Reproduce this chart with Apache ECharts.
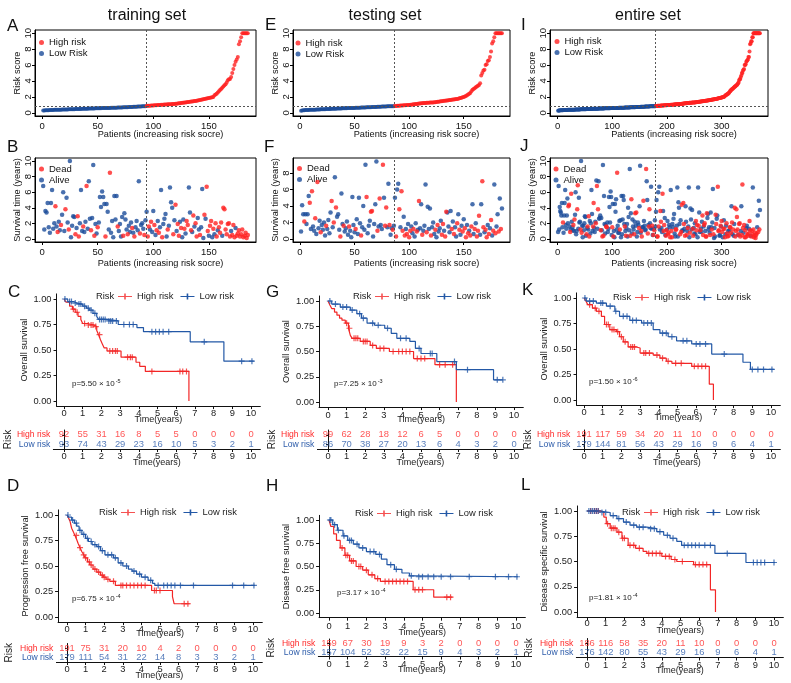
<!DOCTYPE html>
<html><head><meta charset="utf-8">
<script src="https://cdn.jsdelivr.net/npm/echarts@6/dist/echarts.min.js"></script>
<style>html,body{margin:0;padding:0;background:#fff}#c{width:791px;height:683px}</style>
</head><body><div id="c"></div>
<script>
// ---------------- DATA ----------------
const trainRisk = [0.28,0.30,0.31,0.32,0.33,0.33,0.34,0.35,0.35,0.36,
0.37,0.37,0.38,0.38,0.39,0.40,0.40,0.41,0.41,0.42,
0.42,0.43,0.43,0.44,0.44,0.45,0.45,0.46,0.46,0.47,
0.47,0.48,0.48,0.49,0.49,0.50,0.50,0.51,0.51,0.52,
0.52,0.53,0.53,0.54,0.54,0.55,0.55,0.56,0.56,0.57,
0.57,0.58,0.58,0.59,0.59,0.60,0.60,0.61,0.61,0.62,
0.62,0.63,0.63,0.64,0.64,0.65,0.65,0.66,0.66,0.67,
0.67,0.68,0.69,0.69,0.70,0.71,0.71,0.72,0.73,0.73,
0.74,0.75,0.76,0.76,0.77,0.78,0.79,0.80,0.80,0.81,
0.82,0.83,0.84,
0.86,0.88,0.89,0.90,0.91,0.92,0.93,
0.94,0.95,0.96,0.97,0.98,0.99,1.00,1.01,1.02,1.03,
1.04,1.05,1.06,1.07,1.08,1.09,1.10,1.11,1.12,1.13,
1.15,1.17,1.19,1.21,1.23,1.25,1.27,1.29,1.31,1.33,
1.35,1.37,1.39,1.41,1.43,1.45,1.47,1.49,1.52,1.55,
1.58,1.61,1.64,1.67,1.70,1.73,1.76,1.79,1.82,1.85,
1.88,1.92,1.96,2.00,2.20,2.30,2.40,2.55,2.70,2.85,
3.00,3.15,3.30,3.45,3.60,3.80,4.10,4.20,4.25,4.50,
5.00,5.50,6.00,6.40,6.70,7.00,8.60,9.00,9.50,10,
10,10,10,10,10];
const trainTime = [6.8,1.2,3.6,3.4,4.6,1.5,0.8,4.6,6.3,1.3,
2.0,4.2,1.6,0.9,2.2,1.1,1.8,3.1,6.0,1.0,
3.8,5.3,2.1,1.2,10.0,0.2,1.7,2.9,2.8,0.6,
1.4,2.9,0.3,2.0,6.3,1.0,1.6,0.9,2.2,6.8,
1.3,7.4,2.6,1.1,2.7,9.5,0.4,1.9,0.7,1.5,
2.1,5.4,4.1,6.1,5.4,4.5,0.3,4.5,3.5,1.2,
8.5,0.8,2.3,0.2,5.5,2.5,5.5,1.6,1.0,1.9,
0.3,2.8,0.4,3.3,2.5,1.2,0.6,1.7,0.9,2.1,
1.4,0.8,0.3,1.5,2.3,1.1,7.4,0.7,1.8,2.0,
1.3,0.5,2.4,3.5,0.3,1.6,1.2,2.2,0.9,3.6,
1.8,0.5,1.1,2.3,0.8,1.5,6.3,0.2,1.9,2.6,
3.2,0.3,1.2,1.7,6.6,4.7,4.0,0.6,2.4,4.4,
1.0,1.9,0.4,2.2,1.4,0.2,2.5,1.3,0.7,2.3,
1.8,6.6,3.4,1.1,0.9,3.0,1.6,2.0,0.3,2.7,
1.2,0.5,1.5,6.4,0.1,3.1,2.6,6.7,1.0,0.4,
1.7,2.3,0.2,1.3,0.6,2.0,0.3,1.1,1.5,0.8,
2.1,0.4,4.0,3.8,1.2,0.6,1.9,2.0,0.3,1.0,
0.5,1.8,0.2,1.4,0.4,0.7,1.1,0.3,0.6,1.2,
0.2,0.4,0.8,0.1,0.5];
const trainDead = [0,0,0,0,0,0,0,0,0,0, 0,1,0,1,0,0,1,0,0,0, 1,0,0,1,0,0,0,0,0,1,
0,1,1,0,0,0,1,0,0,1, 0,0,0,1,0,0,1,0,0,1, 0,0,0,0,0,0,1,0,0,0,
1,0,0,0,0,0,0,1,0,0, 0,0,1,0,0,0,1,0,0,0, 1,0,1,0,0,0,0,1,0,0,
0,1,0,0,1,1,0,1,0,0, 1,0,1,0,1,0,0,1,0,0, 0,0,1,0,0,0,0,1,0,1,
0,1,1,0,1,0,0,1,0,1, 1,0,0,1,0,1,0,1,1,0, 0,1,0,0,0,1,0,1,1,0,
1,1,0,1,0,1,1,0,1,1, 1,0,1,1,1,1,1,1,1,0, 1,1,1,0,1,1,1,1,1,1, 1,1,1,1,1];
const trainLowCount = 93;

const testRisk = [0.27,0.30,0.32,0.33,0.34,0.35,0.36,0.36,0.37,0.38,
0.38,0.39,0.40,0.40,0.41,0.42,0.42,0.43,0.44,0.44,
0.45,0.45,0.46,0.47,0.47,0.48,0.48,0.49,0.50,0.50,
0.51,0.51,0.52,0.53,0.53,0.54,0.54,0.55,0.56,0.56,
0.57,0.57,0.58,0.59,0.59,0.60,0.60,0.61,0.62,0.62,
0.63,0.63,0.64,0.65,0.65,0.66,0.66,0.67,0.68,0.68,
0.69,0.69,0.70,0.71,0.71,0.72,0.72,0.73,0.74,0.74,
0.75,0.76,0.76,0.77,0.78,0.78,0.79,0.80,0.80,0.81,
0.81,0.82,0.82,0.83,0.83,0.84,
0.86,0.87,0.88,0.89,
0.90,0.91,0.92,0.93,0.94,0.95,0.96,0.97,0.98,0.99,
1.00,1.02,1.04,1.06,1.08,1.10,1.12,1.14,1.16,1.18,
1.20,1.21,1.22,1.23,1.24,1.25,1.26,1.27,1.28,1.29,
1.30,1.31,1.32,1.34,1.36,1.38,1.40,1.42,1.44,1.46,
1.48,1.50,1.52,1.54,1.56,1.58,1.60,1.62,1.64,1.66,
1.68,1.70,1.72,1.75,1.78,1.82,1.86,1.90,1.95,2.00,
2.05,2.10,2.20,2.30,2.40,2.50,2.70,2.90,3.00,3.10,
3.20,3.30,3.40,3.50,3.70,4.70,5.00,5.30,5.40,6.00,
6.10,6.50,6.60,7.00,7.70,8.70,9.00,9.50,10,10,
10,10,10,10,10];
const testTime = [0.9,4.1,3.0,2.1,3.0,1.8,3.0,5.2,4.4,1.2,
5.8,1.5,1.0,2.5,0.6,6.9,1.3,2.2,0.8,1.7,
1.1,2.0,0.4,1.6,1.2,2.3,0.7,3.2,4.6,1.4,
2.0,7.5,3.8,2.7,3.0,1.1,0.3,5.5,1.8,1.6,
0.9,1.3,2.1,0.5,1.5,1.0,0.2,5.1,1.7,0.8,
1.2,2.4,0.6,5.0,1.9,0.4,1.4,4.0,1.1,9.0,
5.1,0.7,1.6,2.2,3.3,3.4,0.3,1.8,4.2,9.4,
1.0,1.5,4.9,1.7,1.2,9.0,5.0,1.6,3.8,1.4,
6.7,1.7,0.5,1.3,1.1,1.6,5.0,0.3,6.0,6.7,
3.6,1.4,5.8,1.0,2.7,0.4,1.2,0.6,1.8,0.2,
1.0,1.5,0.7,1.2,0.3,1.9,0.9,1.1,4.6,1.3,
4.2,0.5,1.0,1.6,6.6,0.8,3.9,1.2,3.7,0.4,
1.4,2.0,0.6,1.1,0.2,1.7,0.9,1.3,2.2,0.5,
1.8,1.0,0.3,3.3,3.2,1.5,0.8,3.4,1.2,2.1,
0.6,1.4,0.3,1.9,3.0,1.1,0.5,1.6,0.9,2.4,
1.3,0.2,1.7,0.7,1.0,0.4,1.5,4.2,0.6,1.2,
1.9,0.3,1.0,2.8,0.5,4.2,7.0,1.4,0.8,1.1,
0.2,1.7,0.6,1.3,2.3,0.4,1.0,6.6,0.7,1.5,
3.0,0.9,4.9,1.2,3.7];
const testDead = [0,0,0,1,0,0,0,0,1,0, 1,0,0,1,0,1,0,0,1,0, 0,0,0,1,0,0,0,0,1,0,
1,0,1,0,0,0,1,0,0,1, 0,0,0,0,1,0,0,0,0,0, 1,0,0,0,0,1,0,0,0,0,
1,0,0,0,1,1,0,0,0,0, 1,0,1,0,0,1,0,1,1,0, 0,1,0,0,1,0,0,1,0,0,
1,0,1,1,0,1,0,1,0,1, 1,0,0,1,0,0,1,0,1,0, 0,1,0,0,0,1,0,0,0,1,
0,0,0,1,0,1,0,0,0,1, 1,0,1,1,0,0,0,0,1,0, 1,0,0,1,0,1,0,0,1,0,
1,1,0,1,0,1,1,0,0,1, 0,1,1,1,0,0,1,1,0,1, 1,0,1,0,1,0,1,0,1,0, 0,1,0,1,0];
const testLowCount = 86;

// Kaplan-Meier step points [time, survival] and censor times
const kmC_high = [[0,1],[0.1,0.97],[0.3,0.93],[0.45,0.9],[0.6,0.87],[0.75,0.83],[0.9,0.8],[1.0,0.76],[1.25,0.745],[1.6,0.73],[1.75,0.69],[1.85,0.65],[1.95,0.6],[2.05,0.56],[2.15,0.52],[2.3,0.49],[3.05,0.43],[3.85,0.38],[4.05,0.34],[4.35,0.29],[6.68,0.29],[6.68,0]];
const kmC_highCens = [0.5,0.7,1.1,1.3,1.45,1.55,1.7,1.9,2.45,2.6,2.75,2.85,3.4,3.55,3.65,4.7,6.2,6.35,6.55];
const kmC_low = [[0,1],[0.2,0.975],[0.5,0.96],[0.7,0.95],[1.0,0.93],[1.2,0.91],[1.35,0.89],[1.55,0.86],[1.75,0.83],[1.85,0.8],[2.3,0.785],[2.9,0.75],[3.9,0.72],[4.25,0.68],[6.75,0.58],[8.55,0.39],[10.15,0.39]];
const kmC_lowCens = [0.05,0.3,0.4,0.6,0.8,0.9,1.1,1.3,1.45,1.65,1.9,2.0,2.1,2.2,2.4,2.5,2.6,2.8,3.2,3.5,3.7,4.7,4.9,5.1,5.3,5.6,7.5,9.5,10.05];

const kmG_high = [[0,1],[0.1,0.96],[0.2,0.925],[0.35,0.89],[0.48,0.86],[0.62,0.83],[0.75,0.81],[0.93,0.78],[1.1,0.73],[1.2,0.66],[1.3,0.63],[1.73,0.6],[2.27,0.56],[2.6,0.53],[3.3,0.5],[4.6,0.43],[5.75,0.37],[6.9,0.37],[6.9,0]];
const kmG_highCens = [1.0,1.15,1.4,1.5,1.6,1.9,2.0,2.1,2.4,2.8,3.0,3.5,3.8,4.0,4.2,4.4,4.8,5.0,5.2,6.0,6.3,6.7];
const kmG_low = [[0,1],[0.2,0.97],[0.66,0.94],[1.2,0.91],[1.55,0.875],[1.8,0.83],[2.1,0.78],[2.5,0.76],[3.05,0.73],[3.4,0.68],[3.7,0.63],[4.4,0.6],[4.7,0.53],[5.0,0.48],[5.85,0.4],[6.9,0.32],[8.9,0.22],[9.4,0.22]];
const kmG_lowCens = [0.1,0.4,0.8,1.0,1.3,1.7,1.9,2.4,2.7,3.2,3.9,4.2,4.9,5.5,5.6,6.8,7.5,9.1,9.4];

const kmK_high = [[0,1],[0.1,0.97],[0.2,0.935],[0.45,0.9],[0.66,0.87],[0.93,0.82],[1.1,0.74],[1.38,0.69],[1.73,0.67],[1.9,0.62],[2.1,0.57],[2.36,0.52],[2.8,0.51],[3.0,0.46],[3.7,0.44],[4.06,0.41],[4.4,0.38],[4.7,0.36],[5.76,0.33],[6.7,0.155],[6.92,0]];
const kmK_highCens = [0.3,0.6,0.8,1.2,1.3,1.5,1.6,1.8,2.0,2.2,2.5,2.6,2.7,3.2,3.3,3.5,3.9,4.2,4.5,4.9,5.2,5.9,6.1,6.3,6.5];
const kmK_low = [[0,1],[0.12,0.97],[0.66,0.95],[1.2,0.92],[1.65,0.87],[1.9,0.82],[2.45,0.78],[3.08,0.755],[3.7,0.69],[4.06,0.655],[4.5,0.62],[4.95,0.58],[5.76,0.55],[6.83,0.45],[8.5,0.37],[8.9,0.3],[10.15,0.3]];
const kmK_lowCens = [0.05,0.3,0.5,0.9,1.0,1.4,1.7,2.1,2.3,2.6,2.8,3.2,3.4,3.6,4.2,4.4,4.7,5.3,5.5,6.0,6.2,6.5,7.5,9.0,9.3,9.6,10.05];

const kmD_high = [[0,1],[0.08,0.97],[0.16,0.94],[0.25,0.87],[0.35,0.83],[0.43,0.8],[0.52,0.76],[0.6,0.72],[0.7,0.68],[0.8,0.64],[0.9,0.61],[0.97,0.58],[1.1,0.54],[1.23,0.51],[1.4,0.47],[1.6,0.44],[1.8,0.41],[1.95,0.39],[2.1,0.37],[2.3,0.35],[2.6,0.31],[4.3,0.31],[4.55,0.26],[5.67,0.2],[5.76,0.13],[6.6,0.13]];
const kmD_highCens = [0.5,0.7,0.9,1.0,1.2,1.3,1.5,1.7,1.9,2.0,2.2,2.5,2.9,3.0,3.2,3.4,3.6,3.8,4.0,4.2,4.7,4.8,5.0,6.3,6.5];
const kmD_low = [[0,1],[0.1,0.98],[0.25,0.95],[0.4,0.92],[0.52,0.89],[0.65,0.85],[0.8,0.81],[1.0,0.77],[1.15,0.74],[1.35,0.71],[1.6,0.69],[1.8,0.65],[2.04,0.61],[2.5,0.58],[2.75,0.53],[3.0,0.5],[3.3,0.47],[3.5,0.45],[3.74,0.42],[4.0,0.39],[4.36,0.36],[4.6,0.33],[4.72,0.31],[10.1,0.31]];
const kmD_lowCens = [0.05,0.3,0.5,0.7,0.9,1.1,1.3,1.5,1.7,1.9,2.2,2.4,2.6,2.9,3.2,3.6,3.9,4.2,4.5,4.9,5.2,5.4,5.6,5.8,6.1,6.8,8.9,9.5,10.05];

const kmH_high = [[0,1],[0.1,0.93],[0.25,0.85],[0.4,0.78],[0.6,0.7],[0.85,0.62],[1.1,0.56],[1.45,0.5],[1.8,0.46],[2.1,0.41],[2.45,0.37],[2.75,0.34],[4.5,0.25],[5.6,0.17],[6.6,0.17]];
const kmH_highCens = [0.7,0.9,1.0,1.2,1.3,1.6,1.7,2.0,2.3,2.6,3.0,3.2,3.4,3.6,3.8,4.0,4.2,4.6,4.8,5.0,6.3,6.5];
const kmH_low = [[0,1],[0.2,0.95],[0.45,0.89],[0.75,0.83],[1.0,0.78],[1.3,0.74],[1.6,0.7],[2.0,0.66],[2.5,0.63],[2.8,0.58],[3.1,0.52],[3.5,0.47],[3.9,0.43],[4.3,0.4],[4.6,0.39],[10.1,0.39]];
const kmH_lowCens = [0.05,0.1,0.3,0.5,0.8,1.1,1.2,1.5,1.8,2.2,2.4,2.7,3.3,3.6,4.4,4.8,5.0,5.3,5.6,6.0,6.5,7.5,8.9,9.6,10.05];

const kmL_high = [[0,1],[0.7,0.99],[0.9,0.94],[1.03,0.875],[1.24,0.83],[1.6,0.79],[1.87,0.73],[2.2,0.66],[2.6,0.63],[3.0,0.6],[3.2,0.58],[4.0,0.55],[4.5,0.52],[4.8,0.5],[5.7,0.47],[6.6,0.22],[6.87,0]];
const kmL_highCens = [0.2,0.4,0.5,0.6,1.1,1.3,1.4,1.5,1.7,1.9,2.0,2.3,2.5,2.8,3.3,3.5,3.7,3.9,4.2,4.4,4.7,5.1,5.8,6.0,6.2,6.4];
const kmL_low = [[0,1],[0.7,0.985],[1.24,0.955],[1.6,0.925],[1.95,0.89],[2.3,0.86],[2.66,0.84],[3.2,0.825],[3.73,0.795],[4.1,0.76],[4.44,0.73],[4.8,0.7],[5.06,0.66],[6.84,0.58],[8.5,0.49],[10.05,0.49]];
const kmL_lowCens = [0.1,0.2,0.3,0.4,0.5,0.6,0.8,1.0,1.4,1.7,2.1,2.5,2.8,3.0,3.4,3.6,3.9,4.3,4.6,5.2,5.4,5.6,5.8,6.0,6.3,6.6,7.5,8.9,9.1,9.3,9.5,10.0];

// numbers at risk (times 0..10)
const tableTimes = [0,1,2,3,4,5,6,7,8,9,10];
const riskC_high = [92,55,31,16,8,5,5,0,0,0,0], riskC_low = [93,74,43,29,23,16,10,5,3,2,1];
const riskG_high = [99,62,28,18,12,6,5,0,0,0,0], riskG_low = [86,70,38,27,20,13,6,4,3,2,0];
const riskK_high = [191,117,59,34,20,11,10,0,0,0,0], riskK_low = [179,144,81,56,43,29,16,9,6,4,1];
const riskD_high = [191,75,31,20,10,4,2,0,0,0,0], riskD_low = [179,111,54,31,22,14,8,3,3,2,1];
const riskH_high = [159,67,30,19,9,3,2,0,0,0,0], riskH_low = [157,104,52,32,22,15,9,4,3,2,1];
const riskL_high = [186,116,58,35,20,11,10,0,0,0,0], riskL_low = [176,142,80,55,43,29,16,9,6,4,1];

const pValues = {C:['5.50','-5'], G:['7.25','-3'], K:['1.50','-6'], D:['6.75','-4'], H:['3.17','-4'], L:['1.81','-4']};

// ---------------- BUILD ----------------
const FONT = '"Liberation Sans", Arial, sans-serif';
const RED = '#FF2222', BLUE = '#1B4C9A';
const KRED = '#F22626', KBLUE = '#2358A6';
const TRED = '#FF2A2A', TBLUE = '#2D5CAA';
const grids = [], xAxes = [], yAxes = [], series = [], legends = [], graphics = [];

function addGrid(g, xa, ya) {
  g.outerBoundsMode = 'none';
  grids.push(g);
  const i = grids.length - 1;
  xa.gridIndex = i; ya.gridIndex = i;
  xAxes.push(xa); yAxes.push(ya);
  return i;
}
function txt(x, y, text, size, opts) {
  const g = {type:'text', x, y, silent:true,
    style:{text, fontSize:size, fontFamily:FONT, fill:'#111', align:'left', verticalAlign:'middle'}};
  if (opts) Object.assign(g.style, opts);
  graphics.push(g);
}

// --- base R style panels ---
function baseX(min, max, ticks, nameGap) {
  return {type:'value', min, max, nameMoveOverlap:false,
    axisLine:{show:true, onZero:false, lineStyle:{color:'#000', width:1}},
    axisTick:{show:true, length:3, customValues:ticks, lineStyle:{color:'#000'}},
    axisLabel:{customValues:ticks, fontSize:9.5, color:'#111', margin:5, fontFamily:FONT},
    splitLine:{show:false},
    name:'Patients (increasing risk socre)', nameLocation:'middle', nameGap,
    nameTextStyle:{fontSize:9.2, color:'#111', fontFamily:FONT, padding:[0,0,0,30]}};
}
function baseY(min, max, ticks, name) {
  return {type:'value', min, max, nameMoveOverlap:false,
    axisLine:{show:true, onZero:false, lineStyle:{color:'#000', width:1}},
    axisTick:{show:true, length:3, customValues:ticks, lineStyle:{color:'#000'}},
    axisLabel:{customValues:ticks, fontSize:9.5, color:'#111', margin:2, rotate:90, fontFamily:FONT},
    splitLine:{show:false},
    name, nameLocation:'middle', nameGap:13, nameRotate:90,
    nameTextStyle:{fontSize:9.2, color:'#111', fontFamily:FONT}};
}
const DASH = {type:[2,2], color:'#555', width:1};

function riskPanel(box, risk, cut, xticks, legendPos) {
  const n = risk.length, pad = (n-1)*0.04;
  const gi = addGrid({left:box.l, top:30, width:box.r-box.l, height:86, show:true, borderColor:'#000', borderWidth:1},
    baseX(1-pad, n+pad, xticks, 14), baseY(-0.4, 10.4, [0,2,4,6,8,10], 'Risk score'));
  const low = [], high = [];
  risk.forEach((r,i) => (i < cut ? low : high).push([i+1, r]));
  const thr = (risk[cut-1] + risk[cut]) / 2;
  series.push({type:'scatter', name:'Low Risk', xAxisIndex:gi, yAxisIndex:gi, data:low, symbolSize:4,
    itemStyle:{color:BLUE}, z:3,
    markLine:{silent:true, symbol:'none', label:{show:false}, lineStyle:DASH, animation:false,
      data:[{xAxis:cut+0.5},{yAxis:thr}]}});
  series.push({type:'scatter', name:'High risk', xAxisIndex:gi, yAxisIndex:gi, data:high, symbolSize:4,
    itemStyle:{color:RED}, z:3});
  legends.push({left:legendPos[0], top:legendPos[1], orient:'vertical', itemWidth:5, itemHeight:5, itemGap:1, padding:0,
    textStyle:{fontSize:9.5, fontFamily:FONT, color:'#111', lineHeight:9}, selectedMode:false,
    data:[{name:'High risk', icon:'circle', itemStyle:{color:RED}}, {name:'Low Risk', icon:'circle', itemStyle:{color:BLUE}}]});
}
function survPanel(box, time, dead, cut, xticks, ymax, yticks, legendPos) {
  const n = time.length, pad = (n-1)*0.04;
  const gi = addGrid({left:box.l, top:158, width:box.r-box.l, height:84, show:true, borderColor:'#000', borderWidth:1},
    baseX(1-pad, n+pad, xticks, 17), baseY(-ymax*0.04, ymax*1.04, yticks, 'Survival time (years)'));
  const d = [], a = [];
  time.forEach((t,i) => (dead[i] ? d : a).push([i+1, t]));
  series.push({type:'scatter', name:'Alive', xAxisIndex:gi, yAxisIndex:gi, data:a, symbolSize:4.5,
    itemStyle:{color:BLUE}, z:3,
    markLine:{silent:true, symbol:'none', label:{show:false}, lineStyle:DASH, animation:false, data:[{xAxis:cut+0.5}]}});
  series.push({type:'scatter', name:'Dead', xAxisIndex:gi, yAxisIndex:gi, data:d, symbolSize:4.5,
    itemStyle:{color:RED}, z:4});
  legends.push({left:legendPos[0], top:legendPos[1], orient:'vertical', itemWidth:5, itemHeight:5, itemGap:1, padding:0,
    textStyle:{fontSize:9.5, fontFamily:FONT, color:'#111', lineHeight:9}, selectedMode:false,
    data:[{name:'Dead', icon:'circle', itemStyle:{color:RED}}, {name:'Alive', icon:'circle', itemStyle:{color:BLUE}}]});
}

// --- KM panels ---
const T010 = tableTimes;
function stepAt(curve, t) {
  let s = curve[0][1];
  for (const p of curve) { if (p[0] <= t) s = p[1]; else break; }
  return s;
}
const PLUS = 'path://M0,4H10V6H0Z M4,0H6V10H4Z';
const LEGICON = 'path://M0,3.5H14V4.5H0Z M6.2,1H7.8V7H6.2Z';
function kmPanel(c) {
  const sx = c.s, xmin = c.xmin, left = c.x0 + xmin*sx, width = (10.5 - xmin)*sx;
  const top = c.y1 - 0.05*c.h, height = 1.1*c.h;
  const xa = {type:'value', min:xmin, max:10.5, nameMoveOverlap:false,
    axisLine:{show:true, onZero:false, lineStyle:{color:'#111', width:1}},
    axisTick:{show:true, length:3, customValues:T010, lineStyle:{color:'#111'}},
    axisLabel:{customValues:T010, fontSize:9.3, color:'#222', margin:c.lm, fontFamily:FONT},
    splitLine:{show:false}, name:'Time(years)', nameLocation:'middle', nameGap:c.ng,
    nameTextStyle:{fontSize:9, color:'#222', fontFamily:FONT}};
  const yt = [0,0.25,0.5,0.75,1];
  const ya = {type:'value', min:-0.05, max:1.05, nameMoveOverlap:false,
    axisLine:{show:true, onZero:false, lineStyle:{color:'#111', width:1}},
    axisTick:{show:true, length:3, customValues:yt, lineStyle:{color:'#111'}},
    axisLabel:{customValues:yt, fontSize:9.3, color:'#222', margin:5, fontFamily:FONT, formatter:v=>Number(v).toFixed(2)},
    splitLine:{show:false}, name:c.yname, nameLocation:'middle', nameGap:28, nameRotate:90,
    nameTextStyle:{fontSize:9.2, color:'#222', fontFamily:FONT}};
  const gi = addGrid({left, top, width, height}, xa, ya);
  [[c.high, c.highC, KRED, 'High risk'], [c.low, c.lowC, KBLUE, 'Low risk']].forEach(([cv, cens, col, nm]) => {
    series.push({type:'line', name:nm, xAxisIndex:gi, yAxisIndex:gi, data:cv, step:'end', symbol:'none',
      lineStyle:{color:col, width:1.2}, itemStyle:{color:col}, z:3, animation:false});
    series.push({type:'scatter', name:nm, xAxisIndex:gi, yAxisIndex:gi, data:cens.map(t => [t, stepAt(cv, t)]),
      symbol:PLUS, symbolSize:6, itemStyle:{color:col}, z:4, animation:false});
  });
  legends.push({left:c.leg[0], top:c.leg[1]-4, orient:'horizontal', itemWidth:14, itemHeight:8, itemGap:7, padding:0,
    selectedMode:false, textStyle:{fontSize:9.4, fontFamily:FONT, color:'#222'},
    data:[{name:'High risk', icon:LEGICON, itemStyle:{color:KRED}}, {name:'Low risk', icon:LEGICON, itemStyle:{color:KBLUE}}]});
  txt(c.leg[0]-13, c.leg[1], 'Risk', 9.4, {align:'center', fill:'#222'});
  const pv = pValues[c.key];
  txt(c.p[0], c.p[1], '{a|p=' + pv[0] + ' \u00d7 10}{b|' + pv[1] + '}', 8, {
    rich:{a:{fontSize:8, fontFamily:FONT, fill:'#222'}, b:{fontSize:5.5, fontFamily:FONT, fill:'#222', padding:[0,0,6,1]}}});
  // risk table
  const tb = c.tab, txmin = -0.57;
  const txa = Object.assign({}, xa, {min:txmin, axisLabel:Object.assign({}, xa.axisLabel, {margin:tb.lm}), nameGap:tb.ng});
  const tya = {type:'category', data:['High risk','Low risk'], inverse:true,
    axisLine:{show:true, lineStyle:{color:'#111', width:1}},
    axisTick:{show:true, length:2, alignWithLabel:true, interval:0, lineStyle:{color:'#111'}},
    axisLabel:{interval:0, fontSize:8.6, margin:3, fontFamily:FONT,
      formatter:v => v === 'High risk' ? '{h|High risk}' : '{l|Low risk}',
      rich:{h:{color:TRED, fontSize:8.6, fontFamily:FONT}, l:{color:TBLUE, fontSize:8.6, fontFamily:FONT}}},
    splitLine:{show:false}, name:'Risk', nameLocation:'middle', nameGap:tb.rg, nameRotate:90,
    nameTextStyle:{fontSize:10, color:'#222', fontFamily:FONT}};
  const ti = addGrid({left:c.x0 + txmin*sx, top:tb.top, width:(10.5 - txmin)*sx, height:tb.h}, txa, tya);
  [['High risk', c.nHigh, TRED], ['Low risk', c.nLow, TBLUE]].forEach(([row, vals, col]) => {
    series.push({type:'scatter', name:'tbl', xAxisIndex:ti, yAxisIndex:ti, symbolSize:1,
      itemStyle:{color:'rgba(0,0,0,0)'}, silent:true, animation:false,
      labelLayout:{hideOverlap:false},
      data:T010.map((t,i) => [t, row, vals[i]]),
      label:{show:true, position:'inside', formatter:p => String(p.value[2]), color:col, fontSize:9.4, fontFamily:FONT}});
  });
}

// ---- layout ----
const col = [{l:35, r:256}, {l:293, r:510}, {l:550, r:768}];
riskPanel(col[0], trainRisk, trainLowCount, [0,50,100,150], [39, 37.5]);
riskPanel(col[1], testRisk, testLowCount, [0,50,100,150], [295.5, 38]);
const entire = trainRisk.map((r,i) => ({r, t:trainTime[i], d:trainDead[i]}))
  .concat(testRisk.map((r,i) => ({r, t:testTime[i], d:testDead[i]})))
  .sort((a,b) => a.r - b.r);
const entireRisk = entire.map(e => e.r), entireTime = entire.map(e => e.t), entireDead = entire.map(e => e.d);
const entireLowCount = trainLowCount + testLowCount;
riskPanel(col[2], entireRisk, entireLowCount, [0,100,200,300], [554.5, 36.5]);

survPanel(col[0], trainTime, trainDead, trainLowCount, [0,50,100,150], 10, [0,2,4,6,8,10], [39, 164]);
survPanel(col[1], testTime, testDead, testLowCount, [0,50,100,150], 9.45, [0,2,4,6,8], [297, 163.5]);
survPanel(col[2], entireTime, entireDead, entireLowCount, [0,100,200,300], 10, [0,2,4,6,8,10], [553.5, 164]);

kmPanel({key:'C', x0:64, s:18.7, xmin:-0.4, y1:299, h:102, yname:'Overall survival', lm:3, ng:9,
  high:kmC_high, highC:kmC_highCens, low:kmC_low, lowC:kmC_lowCens, leg:[118,296], p:[72,384],
  nHigh:riskC_high, nLow:riskC_low, tab:{top:430, h:19, lm:3, ng:9, rg:40}});
kmPanel({key:'G', x0:328, s:18.6, xmin:-0.48, y1:301, h:101, yname:'Overall survival', lm:4, ng:8,
  high:kmG_high, highC:kmG_highCens, low:kmG_low, lowC:kmG_lowCens, leg:[375,296], p:[334,384],
  nHigh:riskG_high, nLow:riskG_low, tab:{top:430, h:19, lm:3, ng:9, rg:40}});
kmPanel({key:'K', x0:584, s:18.7, xmin:-0.4, y1:298, h:102, yname:'Overall survival', lm:3, ng:8,
  high:kmK_high, highC:kmK_highCens, low:kmK_low, lowC:kmK_lowCens, leg:[635,297], p:[589,382],
  nHigh:riskK_high, nLow:riskK_low, tab:{top:430, h:19, lm:3, ng:9, rg:40}});
kmPanel({key:'D', x0:67, s:18.6, xmin:-0.48, y1:515, h:102, yname:'Progression free survival', lm:3, ng:7,
  high:kmD_high, highC:kmD_highCens, low:kmD_low, lowC:kmD_lowCens, leg:[121,512], p:[72,599],
  nHigh:riskD_high, nLow:riskD_low, tab:{top:643.5, h:18.5, lm:3, ng:9, rg:42}});
kmPanel({key:'H', x0:329, s:18.7, xmin:-0.53, y1:520, h:93, yname:'Disease free survival', lm:4, ng:10,
  high:kmH_high, highC:kmH_highCens, low:kmH_low, lowC:kmH_lowCens, leg:[377,513], p:[337,593],
  nHigh:riskH_high, nLow:riskH_low, tab:{top:639, h:17.5, lm:3, ng:9, rg:42}});
kmPanel({key:'L', x0:587, s:18.7, xmin:-0.53, y1:511, h:101, yname:'Disease specific survival', lm:2, ng:9,
  high:kmL_high, highC:kmL_highCens, low:kmL_low, lowC:kmL_lowCens, leg:[644,512], p:[589,598],
  nHigh:riskL_high, nLow:riskL_low, tab:{top:638.5, h:19, lm:3, ng:9, rg:42}});

// titles and panel letters
txt(147, 16, 'training set', 16, {align:'center'});
txt(385, 16, 'testing set', 16, {align:'center'});
txt(648, 16, 'entire set', 16, {align:'center'});
[['A',7,26],['E',265,25],['I',521,25],['B',7,147],['F',264,147],['J',520,146],
 ['C',8,292],['G',266,292],['K',522,290],['D',7,486],['H',266,486],['L',521,485]].forEach(([t,x,y]) => txt(x, y, t, 17));

const chart = echarts.init(document.getElementById('c'), null, {renderer:'canvas'});
chart.setOption({
  animation:false, backgroundColor:'#fff',
  textStyle:{fontFamily:FONT},
  grid:grids, xAxis:xAxes, yAxis:yAxes, series, legend:legends, graphic:graphics
});
</script></body></html>
